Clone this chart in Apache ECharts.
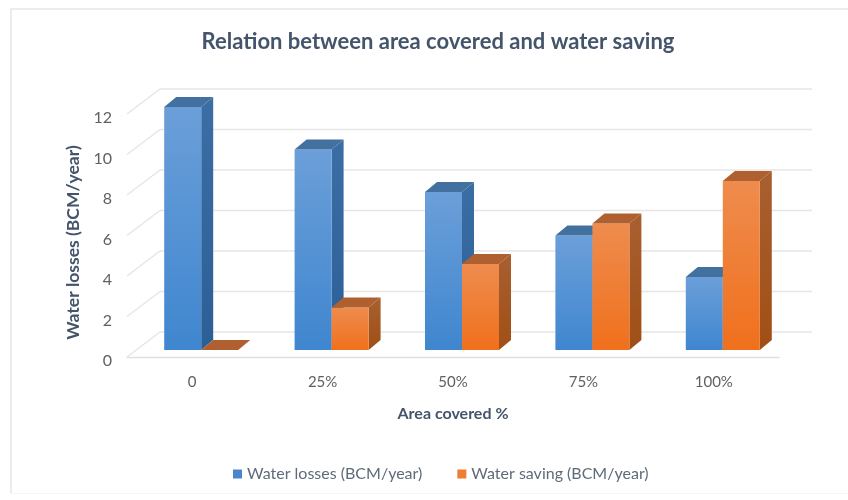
<!DOCTYPE html>
<html><head><meta charset="utf-8">
<style>html,body{margin:0;padding:0;background:#fff}#c{width:848px;height:500px}</style>
<script src="https://cdn.jsdelivr.net/npm/echarts@6/dist/echarts.min.js"></script>
</head><body><div id="c"></div>
<script>
const categories = ['0','25%','50%','75%','100%'];
const waterLosses = [12, 9.9, 7.8, 5.65, 3.6];
const waterSaving = [0, 2.1, 4.25, 6.25, 8.35];
const yTicks = [0,2,4,6,8,10,12];

const WALL = {dx:33, dy:-25};
const BAR = {w:37, dx:12, dy:-10, floorDy:-7, lead:-28};

function grad(a,b){return new echarts.graphic.LinearGradient(0,0,0,1,[{offset:0,color:a},{offset:1,color:b}]);}
function barRenderer(slot, c){
  return function(params, api){
    const i = api.value(0), v = api.value(1);
    const base = api.coord([i,0]), top = api.coord([i,v]);
    const x0 = base[0] + BAR.lead + slot*BAR.w, x1 = x0 + BAR.w;
    const yb = base[1] + BAR.floorDy, yt = top[1] + BAR.floorDy;
    const kids = [];
    if (v > 0) {
      kids.push({type:'polygon',shape:{points:[[x1,yt],[x1+BAR.dx,yt+BAR.dy],[x1+BAR.dx,yb+BAR.dy],[x1,yb]]},
        style:{fill:grad(c.side[0],c.side[1])}});
      kids.push({type:'rect',shape:{x:x0,y:yt,width:BAR.w,height:yb-yt},style:{fill:grad(c.front[0],c.front[1])}});
    }
    kids.push({type:'polygon',shape:{points:[[x0,yt],[x1,yt],[x1+BAR.dx,yt+BAR.dy],[x0+BAR.dx,yt+BAR.dy]]},style:{fill:c.top}});
    return {type:'group',children:kids};
  };
}
const chart = echarts.init(document.getElementById('c'),null,{renderer:'canvas'});
const lineStyle = {stroke:'#e6e6e6',lineWidth:1.4,fill:null};
chart.setOption({
  animation:false,
  backgroundColor:'#ffffff',
  graphic:[
    {type:'rect',silent:true,z:0,shape:{x:10,y:8,width:838,height:2},style:{fill:'#ececec'}},
    {type:'rect',silent:true,z:0,shape:{x:10,y:8,width:2,height:486},style:{fill:'#ececec'}},
    {type:'rect',silent:true,z:0,shape:{x:10,y:493,width:838,height:1},style:{fill:'#f6f6f6'}}
  ],
  title:{text:'Relation between area covered and water saving',left:433,top:26,textAlign:'center',
    textStyle:{fontFamily:'Lato',fontSize:22,fontWeight:'bold',color:'#44546a'}},
  legend:{bottom:13,left:228,itemGap:35,itemWidth:9,itemHeight:9,icon:'rect',
    textStyle:{fontFamily:'Lato',fontSize:16,color:'#5f6b7a'},
    data:['Water losses (BCM/year)','Water saving (BCM/year)']},
  grid:{left:127,right:69,top:114,bottom:143,containLabel:false},
  xAxis:{type:'category',data:categories,
    axisTick:{show:false},
    axisLine:{show:true,lineStyle:{color:'#e0e0e0',width:1.4}},
    axisLabel:{margin:18,fontFamily:'Lato',fontSize:15,color:'#606060'},
    name:'Area covered %',nameLocation:'middle',nameGap:49,
    nameTextStyle:{fontFamily:'Lato',fontSize:16,fontWeight:'bold',color:'#44546a'}},
  yAxis:{type:'value',min:0,max:12,interval:2,
    axisLine:{show:false},axisTick:{show:false},splitLine:{show:false},
    axisLabel:{margin:15,formatter:'{a|{value}}',
      rich:{a:{fontFamily:'Lato',fontSize:16,color:'#606060',padding:[8,0,0,0]}}},
    name:'Water losses (BCM/year)',nameLocation:'middle',nameGap:35,
    nameTextStyle:{fontFamily:'Lato',fontSize:17.5,fontWeight:'bold',color:'#44546a',padding:[0,14,0,0]}},
  series:[
    {type:'custom',name:'walls',silent:true,z:1,data:yTicks.map(t=>[t]),encode:{y:0},
     renderItem:function(params,api){
       const cs=params.coordSys, y=api.coord([0,api.value(0)])[1];
       const L=cs.x,R=cs.x+cs.width;
       const kids=[{type:'line',shape:{x1:L,y1:y,x2:L+WALL.dx,y2:y+WALL.dy},style:lineStyle},
                   {type:'line',shape:{x1:L+WALL.dx,y1:y+WALL.dy,x2:R+WALL.dx,y2:y+WALL.dy},style:lineStyle}];
       return {type:'group',children:kids};
     }},
    {type:'custom',name:'Water losses (BCM/year)',z:2,itemStyle:{color:'#4a86cb'},
     data:waterLosses.map((v,i)=>[i,v]),encode:{x:0,y:1},
     renderItem:barRenderer(0,{front:['#6b9fd9','#3f86cf'],side:['#3c6ea6','#2c5f96'],top:'#42709f'})},
    {type:'custom',name:'Water saving (BCM/year)',z:3,itemStyle:{color:'#ed7d31'},
     data:waterSaving.map((v,i)=>[i,v]),encode:{x:0,y:1},
     renderItem:barRenderer(1,{front:['#ee8c4e','#f0701c'],side:['#a85f30','#a04f16'],top:'#b0602f'})}
  ]
});
</script></body></html>
